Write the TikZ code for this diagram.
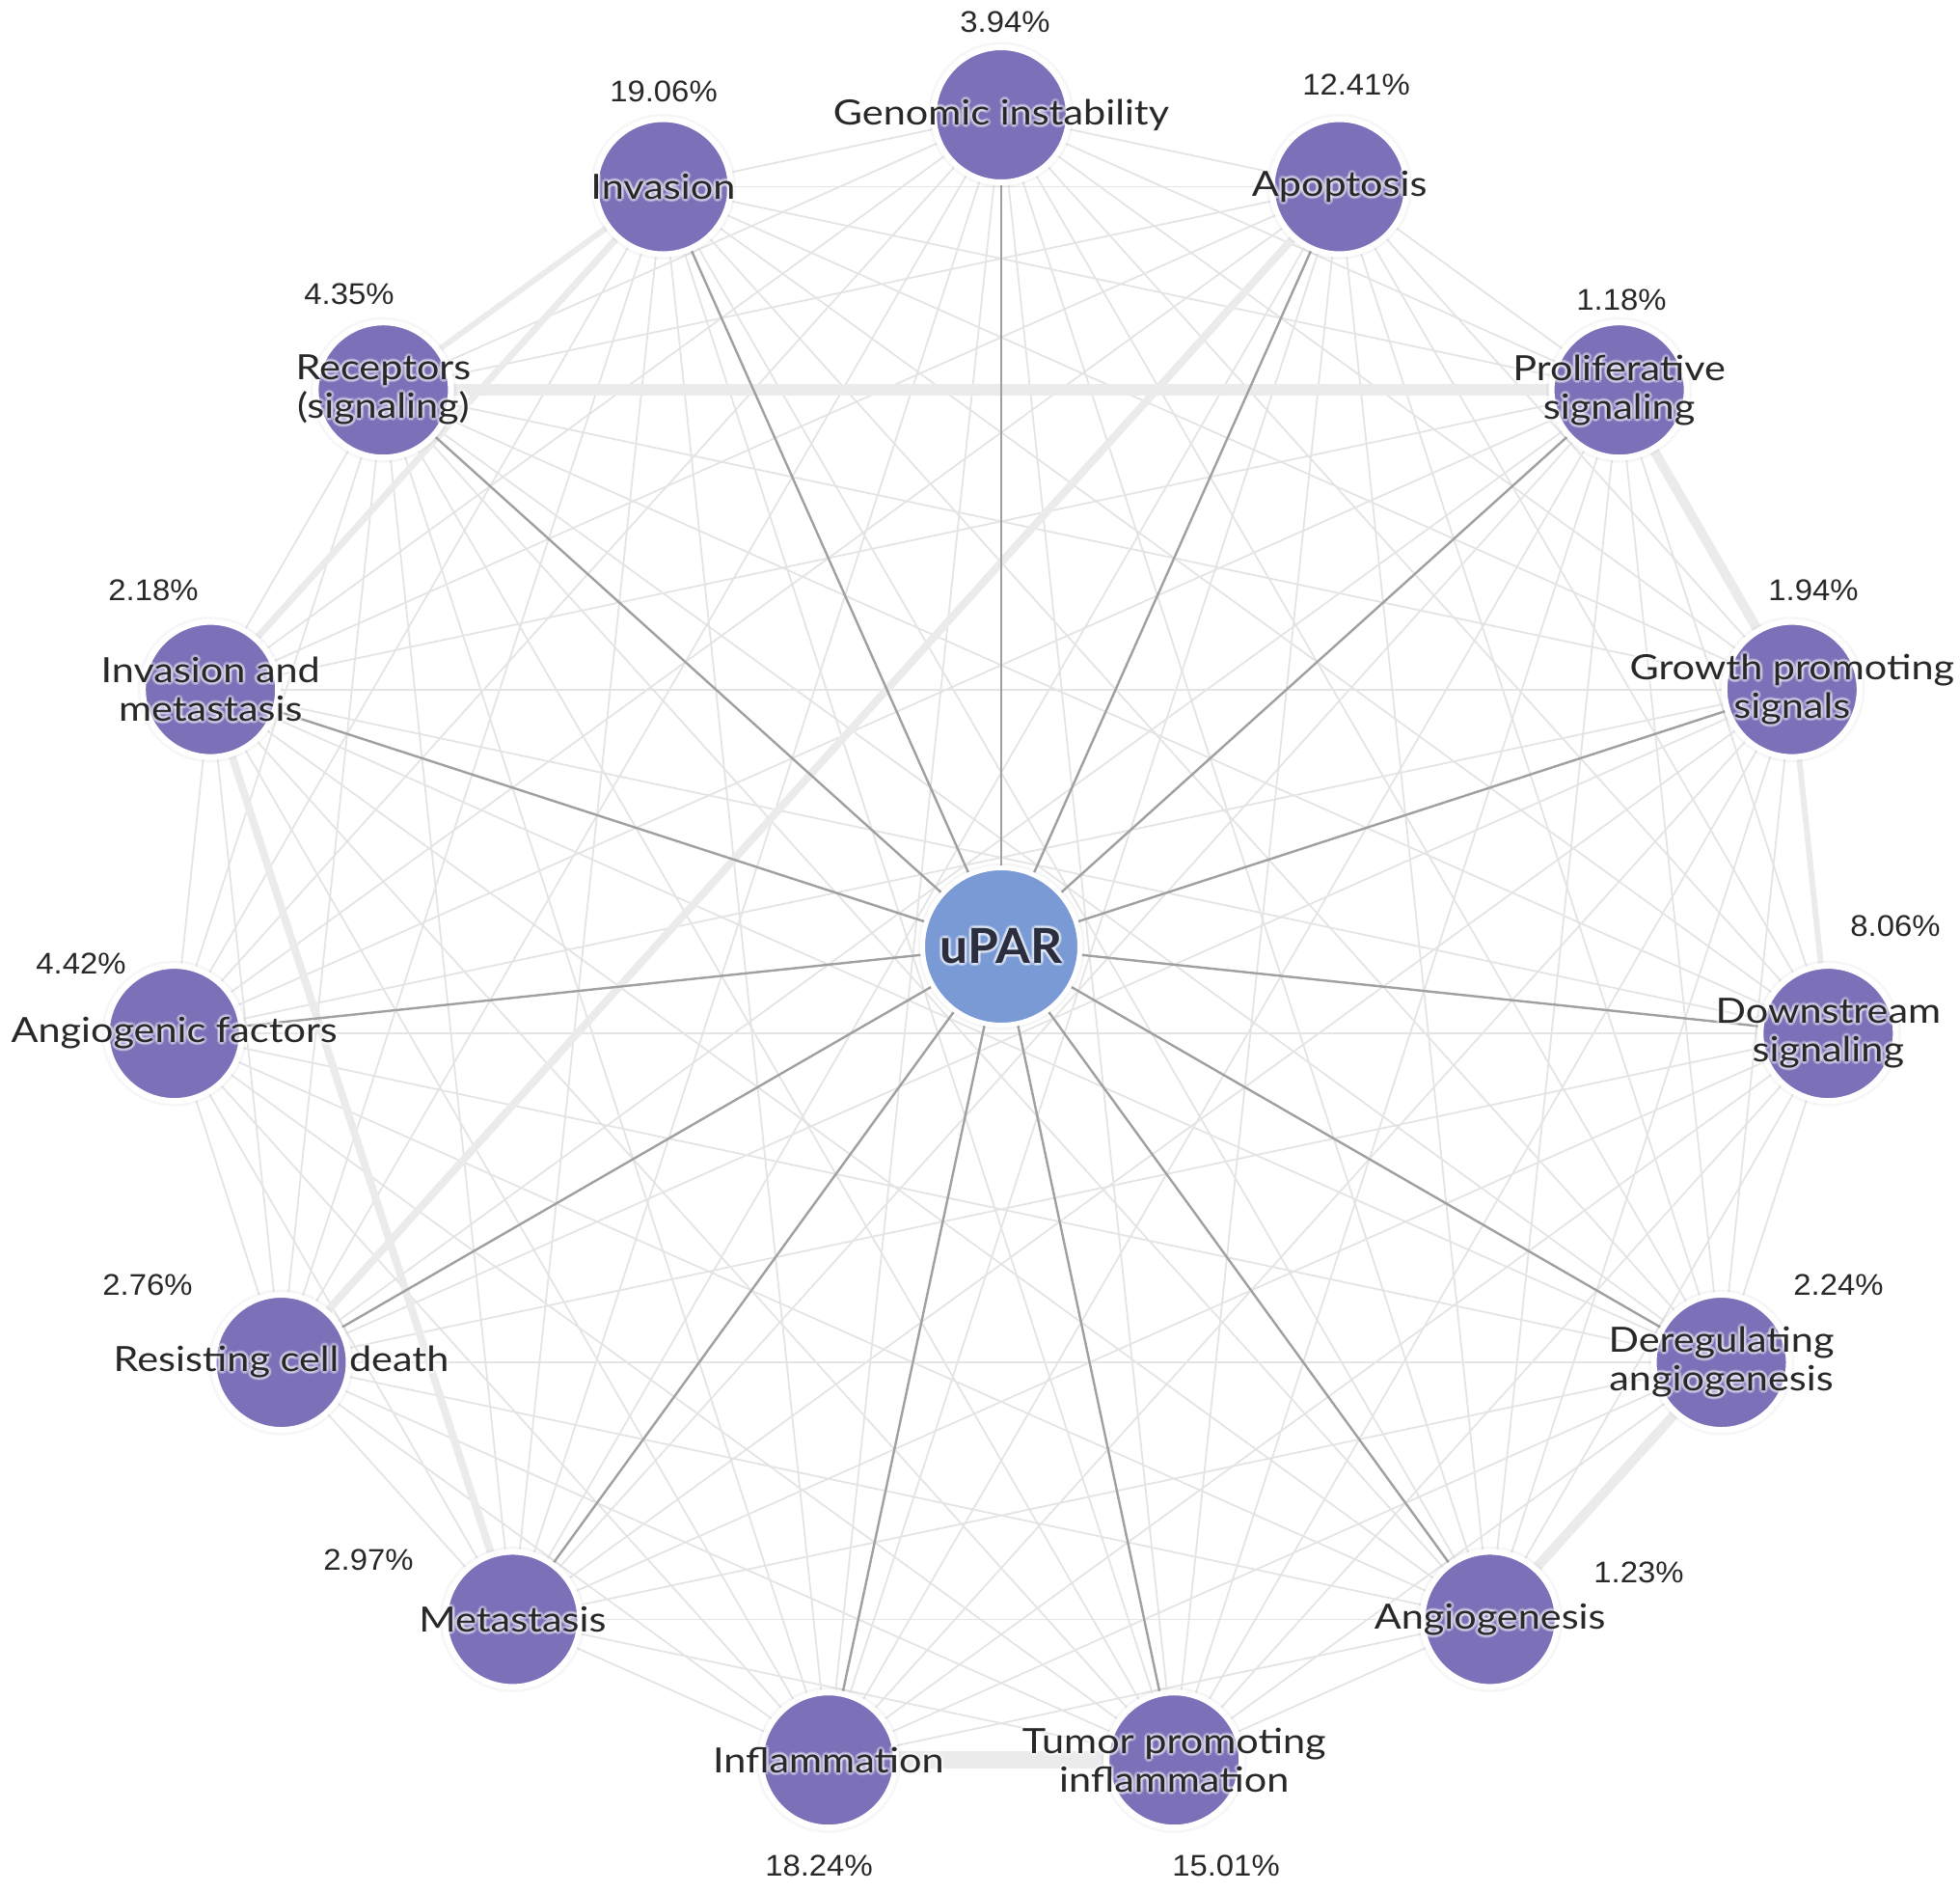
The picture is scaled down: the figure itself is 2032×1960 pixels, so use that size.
\documentclass[tikz,border=0pt]{standalone}
\usepackage{fontspec}
\setmainfont{Lato}[FakeStretch=1.15]
\newfontfamily\pctfont{Liberation Sans}[FakeStretch=1.06]
\newfontfamily\hubfont{Lato Bold}[FakeStretch=1.03]
\usetikzlibrary{calc}
\pgfdeclarelayer{edges}
\pgfsetlayers{edges,main}
\definecolor{nodepurple}{RGB}{124,112,184}
\definecolor{hubblue}{RGB}{122,154,214}
\definecolor{meshgray}{RGB}{228,228,228}
\definecolor{thickgray}{RGB}{235,235,235}
\definecolor{spokegray}{RGB}{160,160,160}
\definecolor{labelink}{RGB}{40,40,40}
\definecolor{hubink}{RGB}{42,46,62}
\newcommand\halolabel[3]{%
  \foreach \dx/\dy [count=\h] in {3/0,-3/0,0/3,0/-3,2/2,-2/2,2/-2,-2/-2}
    \node[lbl, text=white, text opacity=0.3] (#1-h\h) at ($(#2)+(\dx,\dy)$) {#3};
  \node[lbl] (#1) at (#2) {#3};
}
\begin{document}
\begin{tikzpicture}[x=0.5pt,y=-0.5pt,
  outer/.style={circle, fill=nodepurple, draw=white, line width=3pt,
    minimum size=70pt, inner sep=0pt,
    preaction={draw=black, draw opacity=0.035, line width=5.5pt}},
  hub/.style={circle, fill=hubblue, draw=white, line width=2.5pt,
    minimum size=81.5pt, inner sep=0pt,
    preaction={draw=black, draw opacity=0.035, line width=5pt}},
  lbl/.style={align=center, text=labelink, font=\fontsize{18}{20}\selectfont, inner sep=0pt},
  pct/.style={text=labelink, font=\pctfont\fontsize{15.5}{17}\selectfont, inner sep=0pt},
  mesh/.style={draw=meshgray, line width=0.9pt},
  heavy/.style={draw=thickgray, line width=#1},
  spoke/.style={draw=spokegray, line width=1.2pt},
]
\useasboundingbox (0,0) rectangle (2032,1960);

% hub and outer nodes
\node[hub] (hub) at (1038,981) {};
\node[outer] (n0)  at (1038.0,119.0) {};
\node[outer] (n1)  at (1388.6,193.5) {};
\node[outer] (n2)  at (1678.6,404.2) {};
\node[outer] (n3)  at (1857.8,714.6) {};
\node[outer] (n4)  at (1895.3,1071.1) {};
\node[outer] (n5)  at (1784.5,1412.0) {};
\node[outer] (n6)  at (1544.7,1678.4) {};
\node[outer] (n7)  at (1217.2,1824.2) {};
\node[outer] (n8)  at (858.8,1824.2) {};
\node[outer] (n9)  at (531.3,1678.4) {};
\node[outer] (n10) at (291.5,1412.0) {};
\node[outer] (n11) at (180.7,1071.1) {};
\node[outer] (n12) at (218.2,714.6) {};
\node[outer] (n13) at (397.4,404.2) {};
\node[outer] (n14) at (687.4,193.5) {};

% connectors
\begin{pgfonlayer}{edges}
  \foreach \i in {0,...,13} {
    \pgfmathtruncatemacro\s{\i+1}
    \foreach \j in {\s,...,14} { \draw[mesh] (n\i) -- (n\j); }
  }
  \draw[heavy=6pt] (n13) -- (n2);
  \draw[heavy=4pt] (n1) -- (n10);
  \draw[heavy=3.5pt] (n14) -- (n12);
  \draw[heavy=3pt] (n13) -- (n14);
  \draw[heavy=4pt] (n12) -- (n9);
  \draw[heavy=5pt] (n2) -- (n3);
  \draw[heavy=3pt] (n3) -- (n4);
  \draw[heavy=5pt] (n5) -- (n6);
  \draw[heavy=9pt] (n7) -- (n8);
  \foreach \i in {0,...,14} { \draw[spoke] (hub) -- (n\i); }
\end{pgfonlayer}

% hub label
\foreach \dx/\dy [count=\h] in {3/0,-3/0,0/3,0/-3,2/2,-2/2,2/-2,-2/-2}
  \node[text=white, text opacity=0.35, inner sep=0pt, font=\hubfont\fontsize{25}{27}\selectfont] (hubt-h\h) at ($(hub)+(\dx,\dy)$) {uPAR};
\node[text=hubink, inner sep=0pt, font=\hubfont\fontsize{25}{27}\selectfont] (hubt) at (hub) {uPAR};

% node labels
\halolabel{l0}{n0}{Genomic instability}
\halolabel{l1}{n1}{Apoptosis}
\halolabel{l2}{n2}{Proliferative\\signaling}
\halolabel{l3}{n3}{Growth promoting\\signals}
\halolabel{l4}{n4}{Downstream\\signaling}
\halolabel{l5}{n5}{Deregulating\\angiogenesis}
\halolabel{l6}{n6}{Angiogenesis}
\halolabel{l7}{n7}{Tumor promoting\\inflammation}
\halolabel{l8}{n8}{Inflammation}
\halolabel{l9}{n9}{Metastasis}
\halolabel{l10}{n10}{Resisting cell death}
\halolabel{l11}{n11}{Angiogenic factors}
\halolabel{l12}{n12}{Invasion and\\metastasis}
\halolabel{l13}{n13}{Receptors\\(signaling)}
\halolabel{l14}{n14}{Invasion}

% percentages
\node[pct] (p0)  at (1042,23)   {3.94\%};
\node[pct] (p1)  at (1406,88)   {12.41\%};
\node[pct] (p2)  at (1681,311)  {1.18\%};
\node[pct] (p3)  at (1880,612)  {1.94\%};
\node[pct] (p4)  at (1965,960)  {8.06\%};
\node[pct] (p5)  at (1906,1332) {2.24\%};
\node[pct] (p6)  at (1699,1630) {1.23\%};
\node[pct] (p7)  at (1271,1934) {15.01\%};
\node[pct] (p8)  at (849,1934)  {18.24\%};
\node[pct] (p9)  at (382,1617)  {2.97\%};
\node[pct] (p10) at (153,1332)  {2.76\%};
\node[pct] (p11) at (84,999)    {4.42\%};
\node[pct] (p12) at (159,612)   {2.18\%};
\node[pct] (p13) at (362,305)   {4.35\%};
\node[pct] (p14) at (688,95)    {19.06\%};
\end{tikzpicture}
\end{document}
